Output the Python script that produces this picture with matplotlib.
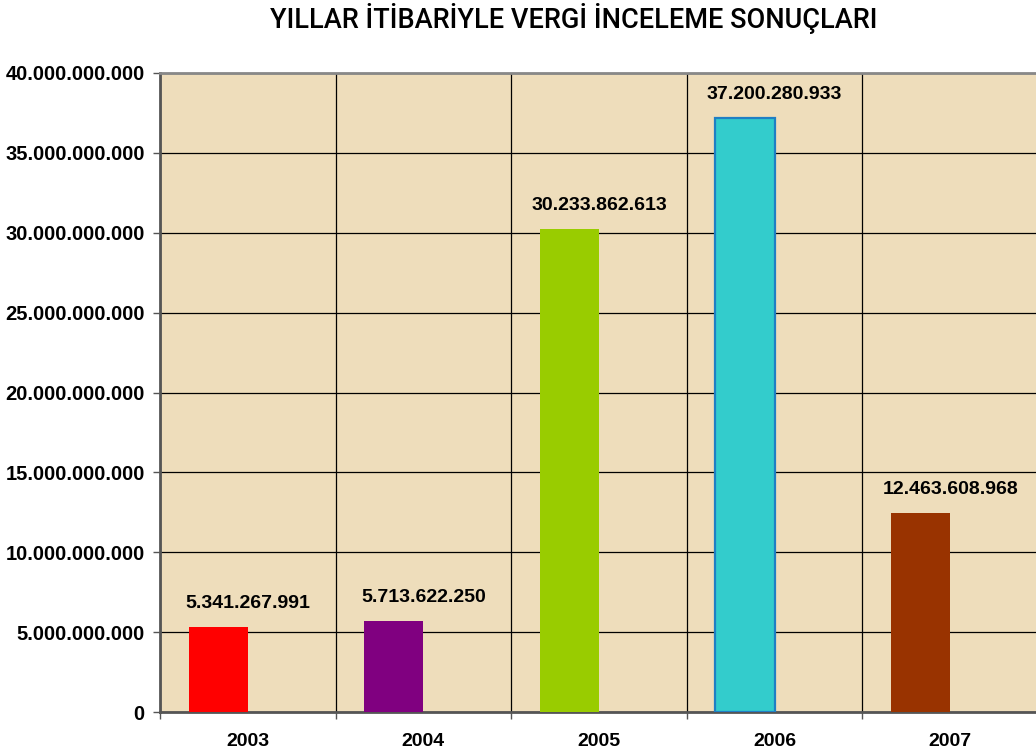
import matplotlib
matplotlib.use("Agg")
import matplotlib.pyplot as plt
from matplotlib.ticker import FuncFormatter, FixedLocator
import numpy as np

years = ["2003", "2004", "2005", "2006", "2007"]
values = [5341267991, 5713622250, 30233862613, 37200280933, 12463608968]
labels = ["5.341.267.991", "5.713.622.250", "30.233.862.613", "37.200.280.933", "12.463.608.968"]
colors = ["#FF0000", "#800080", "#99CC00", "#33CCCC", "#993300"]
edgecolors = ["#FF0000", "#800080", "#99CC00", "#1F7FC4", "#993300"]
title = "YILLAR İTİBARİYLE VERGİ İNCELEME SONUÇLARI"

fig = plt.figure(figsize=(10.36, 7.55), dpi=100)
ax = fig.add_axes([160/1036, 1-712/755, 1-160/1036 + 0.002, (712-73)/755])
ax.set_facecolor("#EEDDBB")

x = np.arange(len(years))
w = 0.337
ax.bar(x - w/2, values, width=w, color=colors, edgecolor=edgecolors,
       linewidth=[0, 0, 0, 1.6, 0], zorder=3)

for xi, v, lab in zip(x, values, labels):
    ax.annotate(lab, (xi, v), xytext=(0, 17), textcoords="offset points",
                ha="center", va="center", fontsize=14, fontweight="bold",
                family="Liberation Sans", zorder=4)

ax.set_xlim(-0.5, 4.5)
ax.set_ylim(0, 40e9)
ax.set_yticks(np.arange(0, 40e9 + 1, 5e9))
ax.yaxis.set_major_formatter(FuncFormatter(lambda v, p: "0" if v == 0 else f"{int(v):,}".replace(",", ".")))
ax.set_xticks(x)
ax.set_xticklabels(years)
ax.xaxis.set_minor_locator(FixedLocator(np.arange(-0.5, 5.0, 1.0)))
ax.tick_params(axis="x", which="major", length=0, pad=15)
ax.tick_params(axis="x", which="minor", length=5, width=1, color="#555555")
ax.tick_params(axis="y", length=5, width=1, color="#555555", pad=6)
for t in ax.get_xticklabels():
    t.set_fontfamily("Liberation Sans")
    t.set_fontweight("bold")
    t.set_fontsize(14)
for t in ax.get_yticklabels():
    t.set_fontfamily("Liberation Sans")
    t.set_fontweight("bold")
    t.set_fontsize(14.5)

ax.grid(True, axis="y", color="black", linewidth=0.9, zorder=1)
ax.grid(True, axis="x", which="minor", color="black", linewidth=0.9, zorder=1)
ax.grid(False, axis="x", which="major")
for s in ["left", "bottom"]:
    ax.spines[s].set_color("#555555")
    ax.spines[s].set_linewidth(2)
ax.spines["top"].set_color("#888888")
ax.spines["top"].set_linewidth(2)
ax.spines["right"].set_visible(False)

fig.text(574/1036, 1-19/755, title, ha="center", va="center", fontsize=19.5,
         fontweight="medium", family=["Roboto", "DejaVu Sans"])

fig.savefig("out.png", dpi=100, facecolor="white")
